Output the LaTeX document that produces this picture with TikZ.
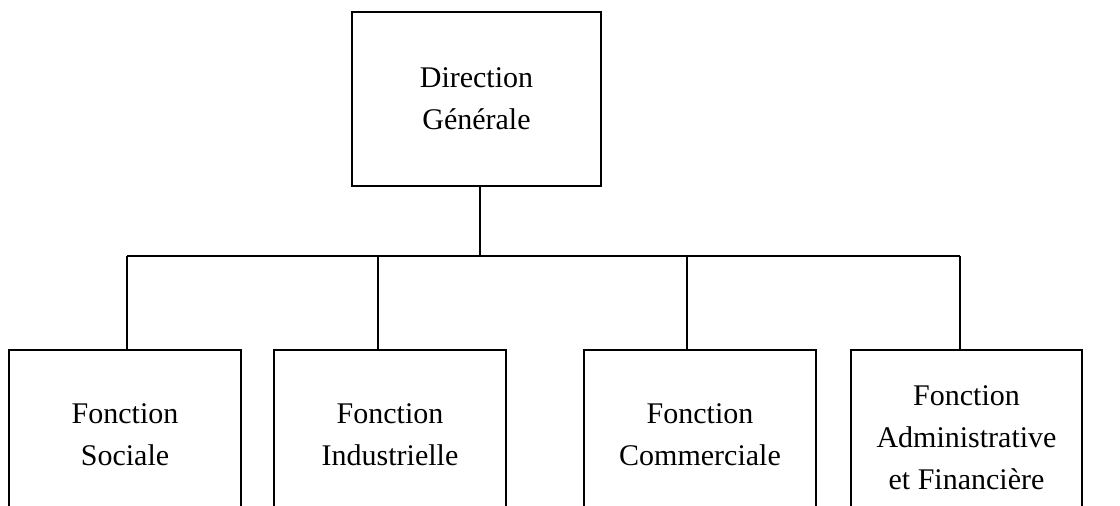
\documentclass[tikz,border=0pt]{standalone}
\usepackage{fontspec}
\setmainfont{Liberation Serif}
\begin{document}
\begin{tikzpicture}[x=1pt,y=-1pt,
  box/.style={draw=black,line width=1.3pt,fill=white,align=center,inner sep=0pt,
    font=\fontsize{30}{42}\selectfont},
  link/.style={draw=black,line width=1.3pt}]
\useasboundingbox (0,0) rectangle (1120,506);
\clip (0,0) rectangle (1120,506);
\node[box,minimum width=249pt,minimum height=174pt] (top) at (476.5,99) {Direction\\Générale};
\node[box,minimum width=232pt,minimum height=170pt] (b1) at (125,435) {Fonction\\Sociale};
\node[box,minimum width=232pt,minimum height=170pt] (b2) at (390,435) {Fonction\\Industrielle};
\node[box,minimum width=232pt,minimum height=170pt] (b3) at (700,435) {Fonction\\Commerciale};
\node[box,minimum width=231pt,minimum height=176pt] (b4) at (966.5,438) {Fonction\\Administrative\\et Financière};
\coordinate (bus) at (480,256);
\coordinate (c1) at (127,256);
\coordinate (c2) at (378,256);
\coordinate (c3) at (687,256);
\coordinate (c4) at (960,256);
\draw[link] (top.south -| bus) -- (bus);
\draw[link] (c1) -- (c4);
\draw[link] (c1) -- (c1 |- b1.north);
\draw[link] (c2) -- (c2 |- b2.north);
\draw[link] (c3) -- (c3 |- b3.north);
\draw[link] (c4) -- (c4 |- b4.north);
\end{tikzpicture}
\end{document}
